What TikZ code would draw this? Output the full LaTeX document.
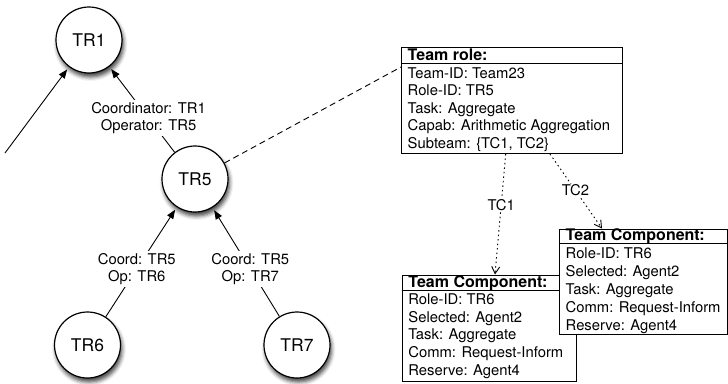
\documentclass[tikz,border=0pt]{standalone}
\usepackage{fontspec}
\setmainfont{TeX Gyre Heros}
\usetikzlibrary{arrows.meta,shadows.blur}

\newcommand\dgbody{\fontsize{14.8}{17.5}\selectfont}
\newcommand\dghead{\fontsize{16}{17.5}\selectfont\bfseries}
\newcommand\dgcircle{\fontsize{17.5}{20}\selectfont}

\tikzset{
  rolenode/.style={circle, draw, line width=1.2pt, fill=white, minimum size=66pt,
    inner sep=0pt, font=\dgcircle,
    blur shadow={shadow xshift=1.5pt, shadow yshift=-4pt, shadow blur radius=4pt, shadow opacity=75}},
  link/.style={line width=0.9pt, -{Triangle[length=9pt,width=7pt]}, shorten >=3pt},
  lbl/.style={fill=white, inner sep=2pt, align=center, font=\dgbody},
  boxframe/.style={draw, line width=1pt, fill=white, inner sep=0pt, anchor=north west},
  boxtext/.style={anchor=base west, inner sep=0pt, font=\dgbody},
  boxhead/.style={anchor=base west, inner sep=0pt, font=\dghead},
  dashlink/.style={line width=0.9pt, dash pattern=on 6pt off 4pt},
  tclink/.style={line width=0.9pt, dash pattern=on 1.5pt off 3pt,
    -{Straight Barb[length=7pt,width=8pt]}},
}

\begin{document}
\begin{tikzpicture}[x=1pt, y=-1pt]
\useasboundingbox (0,0) rectangle (728,383);

% team role tree
\node[rolenode] (tr1) at (89,40) {TR1};
\node[rolenode] (tr5) at (195,179) {TR5};
\node[rolenode] (tr6) at (87.5,345) {TR6};
\node[rolenode] (tr7) at (297,345) {TR7};
\coordinate (up) at (5,153);

\draw[link] (up) -- (tr1);
\draw[link] (tr5) -- node[lbl, pos=0.4] {Coordinator: TR1\\Operator: TR5} (tr1);
\draw[link] (tr6) -- node[lbl, pos=0.437] {Coord: TR5\\Op: TR6} (tr5);
\draw[link] (tr7) -- node[lbl, pos=0.436] {Coord: TR5\\Op: TR7} (tr5);

% team role record
\node[boxframe, minimum width=221pt, minimum height=106pt] (trole) at (401,47) {};
\draw[line width=1pt] ([yshift=-16.5pt]trole.north west) -- ([yshift=-16.5pt]trole.north east);
\node[boxhead] at ([xshift=6.5pt,yshift=-13.5pt]trole.north west) {Team role:};
\foreach \t [count=\i] in {Team-ID: Team23, Role-ID: TR5, Task: Aggregate,
    Capab: Arithmetic Aggregation, {Subteam: \{TC1, TC2\}}}
  \node[boxtext] at ([xshift=6.5pt, yshift={-31pt-17.5pt*(\i-1)}]trole.north west) {\t};

% first team component record
\node[boxframe, minimum width=174pt, minimum height=106pt] (tc1) at (401.7,274.5) {};
\draw[line width=1pt] ([yshift=-16pt]tc1.north west) -- ([yshift=-16pt]tc1.north east);
\node[boxhead] at ([xshift=6.5pt,yshift=-13.3pt]tc1.north west) {Team Component:};
\foreach \t [count=\i] in {Role-ID: TR6, Selected: Agent2, Task: Aggregate,
    Comm: Request-Inform, Reserve: Agent4}
  \node[boxtext] at ([xshift=6.5pt, yshift={-30.2pt-17.6pt*(\i-1)}]tc1.north west) {\t};

% second team component record, lying over the first
\node[boxframe, minimum width=168pt, minimum height=105pt] (tc2) at (559,228.5) {};
\draw[line width=1pt] ([yshift=-14.5pt]tc2.north west) -- ([yshift=-14.5pt]tc2.north east);
\node[boxhead] at ([xshift=6.5pt,yshift=-12pt]tc2.north west) {Team Component:};
\foreach \t [count=\i] in {Role-ID: TR6, Selected: Agent2, Task: Aggregate,
    Comm: Request-Inform, Reserve: Agent4}
  \node[boxtext] at ([xshift=6.5pt, yshift={-30pt-17.9pt*(\i-1)}]tc2.north west) {\t};

% links between the records
\coordinate (rolein) at ([yshift=-20pt]trole.north west);
\draw[dashlink] (tr5) -- (rolein);
\draw[tclink] ([xshift=104.7pt]trole.south west) -- node[lbl, inner sep=1pt, pos=0.42] {TC1} ([xshift=93.3pt]tc1.north west);
\draw[tclink] ([xshift=149pt]trole.south west) -- node[lbl, inner sep=1pt, pos=0.49] {TC2} ([xshift=43pt]tc2.north west);
\end{tikzpicture}
\end{document}
